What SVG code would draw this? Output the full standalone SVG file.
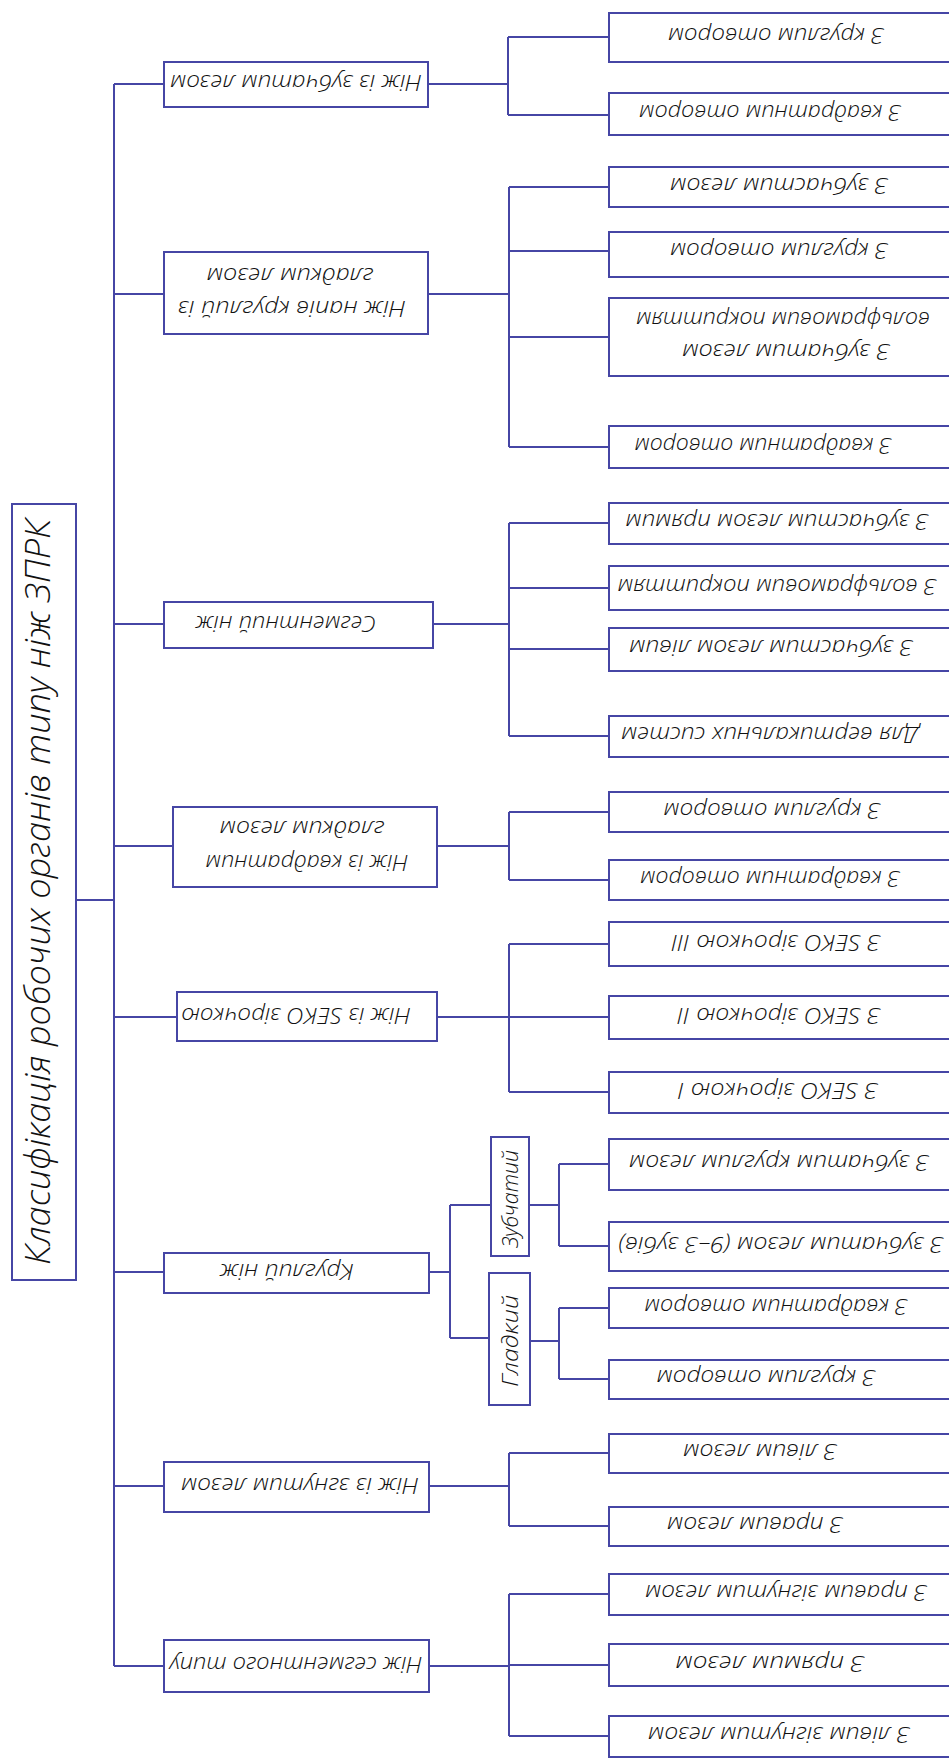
<svg xmlns="http://www.w3.org/2000/svg" width="949" height="1758" viewBox="0 0 949 1758">
<style>
.box{fill:#fff;stroke:#4646a5;stroke-width:2}
.ln{fill:none;stroke:#4646a5;stroke-width:2}
.t{font-family:"Open Sans","Liberation Sans",sans-serif;font-weight:300;font-style:italic;font-size:22px;fill:#111;text-anchor:middle;dominant-baseline:central}
.tt{font-family:"Open Sans","Liberation Sans",sans-serif;font-weight:300;font-style:italic;font-size:35px;fill:#111;text-anchor:middle}
.tv{font-family:"Open Sans","Liberation Sans",sans-serif;font-weight:300;font-style:italic;font-size:22px;fill:#111;text-anchor:middle}
</style>
<rect width="949" height="1758" fill="#fff"/>
<g id="connectors">
<path class="ln" d="M114 84V1666 M76 900H114"/>
<path class="ln" d="M114 84H164 M428 84H508 M508 37V115 M508 37H609 M508 115H609"/>
<path class="ln" d="M114 294H164 M428 294H509 M509 187V447 M509 187H609 M509 251H609 M509 337H609 M509 447H609"/>
<path class="ln" d="M114 624H164 M433 624H509 M509 523V736 M509 523H609 M509 588H609 M509 649H609 M509 736H609"/>
<path class="ln" d="M114 846H173 M437 846H509 M509 812V880 M509 812H609 M509 880H609"/>
<path class="ln" d="M114 1017H177 M437 1017H509 M509 944V1092 M509 944H609 M509 1017H609 M509 1092H609"/>
<path class="ln" d="M114 1272H164 M429 1272H450 M450 1205V1338 M450 1205H490 M450 1338H489 M529 1205H559 M530 1341H559 M559 1164V1246 M559 1164H609 M559 1246H609 M559 1308V1379 M559 1308H609 M559 1379H609"/>
<path class="ln" d="M114 1486H164 M429 1486H509 M509 1453V1526 M509 1453H609 M509 1526H609"/>
<path class="ln" d="M114 1666H164 M429 1666H509 M509 1594V1736 M509 1594H609 M509 1665H609 M509 1736H609"/>
</g>
<g id="title">
<rect class="box" x="12" y="504" width="64" height="776"/>
<text class="tt" transform="translate(50,892) rotate(-90)" x="0" y="0" textLength="746" lengthAdjust="spacingAndGlyphs">Класифікація робочих органів типу ніж ЗПРК</text>
</g>
<g id="n1">
<rect class="box" x="164" y="62" width="264" height="45"/>
<text class="t" x="296" y="84" transform="rotate(180 296 84)" textLength="252" lengthAdjust="spacingAndGlyphs">Ніж із зубчатим лезом</text>
</g>
<g id="n1a"><rect class="box" x="609" y="13" width="345" height="49"/>
<text class="t" x="776" y="37" transform="rotate(180 776 37)" textLength="216" lengthAdjust="spacingAndGlyphs">З круглим отвором</text></g>
<g id="n1b"><rect class="box" x="609" y="93" width="345" height="42"/>
<text class="t" x="770" y="114" transform="rotate(180 770 114)" textLength="262" lengthAdjust="spacingAndGlyphs">З квадратним отвором</text></g>

<g id="n2">
<rect class="box" x="164" y="252" width="264" height="82"/>
<text class="t" x="292" y="310" transform="rotate(180 292 310)" textLength="228" lengthAdjust="spacingAndGlyphs">Ніж напів круглий із</text>
<text class="t" x="290" y="277" transform="rotate(180 290 277)" textLength="167" lengthAdjust="spacingAndGlyphs">гладким лезом</text>
</g>
<g id="n2a"><rect class="box" x="609" y="167" width="345" height="40"/>
<text class="t" x="779" y="187" transform="rotate(180 779 187)" textLength="218" lengthAdjust="spacingAndGlyphs">З зубчастим лезом</text></g>
<g id="n2b"><rect class="box" x="609" y="232" width="345" height="45"/>
<text class="t" x="779" y="252" transform="rotate(180 779 252)" textLength="218" lengthAdjust="spacingAndGlyphs">З круглим отвором</text></g>
<g id="n2c"><rect class="box" x="609" y="298" width="345" height="78"/>
<text class="t" x="786" y="353" transform="rotate(180 786 353)" textLength="208" lengthAdjust="spacingAndGlyphs">З зубчатим лезом</text>
<text class="t" x="783" y="321" transform="rotate(180 783 321)" textLength="294" lengthAdjust="spacingAndGlyphs">вольфрамовим покриттям</text></g>
<g id="n2d"><rect class="box" x="609" y="426" width="345" height="42"/>
<text class="t" x="763" y="447" transform="rotate(180 763 447)" textLength="257" lengthAdjust="spacingAndGlyphs">З квадратним отвором</text></g>

<g id="n3">
<rect class="box" x="164" y="602" width="269" height="46"/>
<text class="t" x="286" y="625" transform="rotate(180 286 625)" textLength="181" lengthAdjust="spacingAndGlyphs">Сегментний ніж</text>
</g>
<g id="n3a"><rect class="box" x="609" y="503" width="345" height="41"/>
<text class="t" x="777" y="523" transform="rotate(180 777 523)" textLength="303" lengthAdjust="spacingAndGlyphs">З зубчастим лезом прямим</text></g>
<g id="n3b"><rect class="box" x="609" y="566" width="345" height="44"/>
<text class="t" x="777" y="588" transform="rotate(180 777 588)" textLength="319" lengthAdjust="spacingAndGlyphs">З вольфрамовим покриттям</text></g>
<g id="n3c"><rect class="box" x="609" y="628" width="345" height="43"/>
<text class="t" x="771" y="649" transform="rotate(180 771 649)" textLength="284" lengthAdjust="spacingAndGlyphs">З зубчастим лезом лівим</text></g>
<g id="n3d"><rect class="box" x="609" y="716" width="345" height="41"/>
<text class="t" x="770" y="736" transform="rotate(180 770 736)" textLength="298" lengthAdjust="spacingAndGlyphs">Для вертикальних систем</text></g>

<g id="n4">
<rect class="box" x="173" y="807" width="264" height="80"/>
<text class="t" x="307" y="864" transform="rotate(180 307 864)" textLength="203" lengthAdjust="spacingAndGlyphs">Ніж із квадратним</text>
<text class="t" x="302" y="830" transform="rotate(180 302 830)" textLength="165" lengthAdjust="spacingAndGlyphs">гладким лезом</text>
</g>
<g id="n4a"><rect class="box" x="609" y="792" width="345" height="40"/>
<text class="t" x="772" y="812" transform="rotate(180 772 812)" textLength="217" lengthAdjust="spacingAndGlyphs">З круглим отвором</text></g>
<g id="n4b"><rect class="box" x="609" y="860" width="345" height="40"/>
<text class="t" x="770" y="880" transform="rotate(180 770 880)" textLength="260" lengthAdjust="spacingAndGlyphs">З квадратним отвором</text></g>

<g id="n5">
<rect class="box" x="177" y="992" width="260" height="49"/>
<text class="t" x="296" y="1017" transform="rotate(180 296 1017)" textLength="230" lengthAdjust="spacingAndGlyphs">Ніж із SEKO зірочкою</text>
</g>
<g id="n5a"><rect class="box" x="609" y="922" width="345" height="44"/>
<text class="t" x="776" y="944" transform="rotate(180 776 944)" textLength="209" lengthAdjust="spacingAndGlyphs">З SEKO зірочкою III</text></g>
<g id="n5b"><rect class="box" x="609" y="996" width="345" height="43"/>
<text class="t" x="779" y="1017" transform="rotate(180 779 1017)" textLength="203" lengthAdjust="spacingAndGlyphs">З SEKO зірочкою II</text></g>
<g id="n5c"><rect class="box" x="609" y="1072" width="345" height="41"/>
<text class="t" x="778" y="1092" transform="rotate(180 778 1092)" textLength="200" lengthAdjust="spacingAndGlyphs">З SEKO зірочкою I</text></g>

<g id="n6">
<rect class="box" x="164" y="1253" width="265" height="40"/>
<text class="t" x="287" y="1273" transform="rotate(180 287 1273)" textLength="134" lengthAdjust="spacingAndGlyphs">Круглий ніж</text>
</g>
<g id="n6z">
<rect class="box" x="491" y="1137" width="38" height="119"/>
<text class="tv" transform="translate(518,1199) rotate(-90)" x="0" y="0" textLength="98" lengthAdjust="spacingAndGlyphs">Зубчатий</text>
</g>
<g id="n6g">
<rect class="box" x="489" y="1273" width="41" height="132"/>
<text class="tv" transform="translate(518,1341) rotate(-90)" x="0" y="0" textLength="92" lengthAdjust="spacingAndGlyphs">Гладкий</text>
</g>
<g id="n6a"><rect class="box" x="609" y="1139" width="345" height="51"/>
<text class="t" x="779" y="1164" transform="rotate(180 779 1164)" textLength="300" lengthAdjust="spacingAndGlyphs">З зубчатим круглим лезом</text></g>
<g id="n6b"><rect class="box" x="609" y="1222" width="345" height="49"/>
<text class="t" x="781" y="1246" transform="rotate(180 781 1246)" textLength="325" lengthAdjust="spacingAndGlyphs">З зубчатим лезом (9–3 зубів)</text></g>
<g id="n6c"><rect class="box" x="609" y="1288" width="345" height="40"/>
<text class="t" x="776" y="1308" transform="rotate(180 776 1308)" textLength="263" lengthAdjust="spacingAndGlyphs">З квадратним отвором</text></g>
<g id="n6d"><rect class="box" x="609" y="1360" width="345" height="39"/>
<text class="t" x="766" y="1379" transform="rotate(180 766 1379)" textLength="219" lengthAdjust="spacingAndGlyphs">З круглим отвором</text></g>

<g id="n7">
<rect class="box" x="164" y="1462" width="265" height="50"/>
<text class="t" x="300" y="1487" transform="rotate(180 300 1487)" textLength="238" lengthAdjust="spacingAndGlyphs">Ніж із згнутим лезом</text>
</g>
<g id="n7a"><rect class="box" x="609" y="1434" width="345" height="39"/>
<text class="t" x="760" y="1453" transform="rotate(180 760 1453)" textLength="154" lengthAdjust="spacingAndGlyphs">З лівим лезом</text></g>
<g id="n7b"><rect class="box" x="609" y="1507" width="345" height="39"/>
<text class="t" x="755" y="1526" transform="rotate(180 755 1526)" textLength="176" lengthAdjust="spacingAndGlyphs">З правим лезом</text></g>

<g id="n8">
<rect class="box" x="164" y="1640" width="265" height="52"/>
<text class="t" x="296" y="1666" transform="rotate(180 296 1666)" textLength="253" lengthAdjust="spacingAndGlyphs">Ніж сегментного типу</text>
</g>
<g id="n8a"><rect class="box" x="609" y="1574" width="345" height="41"/>
<text class="t" x="786" y="1594" transform="rotate(180 786 1594)" textLength="282" lengthAdjust="spacingAndGlyphs">З правим зігнутим лезом</text></g>
<g id="n8b"><rect class="box" x="609" y="1644" width="345" height="42"/>
<text class="t" x="770" y="1665" transform="rotate(180 770 1665)" textLength="189" lengthAdjust="spacingAndGlyphs">З прямим лезом</text></g>
<g id="n8c"><rect class="box" x="609" y="1716" width="345" height="41"/>
<text class="t" x="779" y="1736" transform="rotate(180 779 1736)" textLength="262" lengthAdjust="spacingAndGlyphs">З лівим зігнутим лезом</text></g>
</svg>
